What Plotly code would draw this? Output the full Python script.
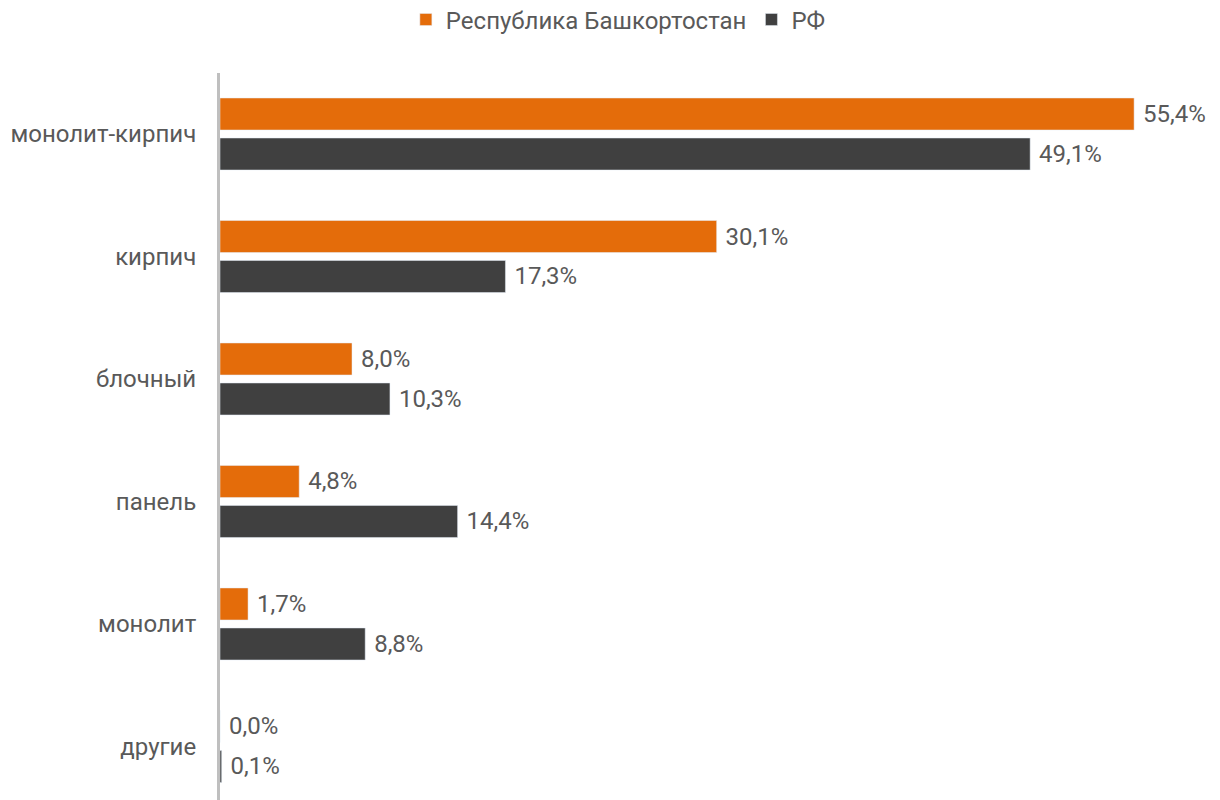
import plotly.graph_objects as go

categories = ["монолит-кирпич", "кирпич", "блочный", "панель", "монолит", "другие"]
bashkortostan = [55.4, 30.1, 8.0, 4.8, 1.7, 0.0]
rf = [49.1, 17.3, 10.3, 14.4, 8.8, 0.1]
series_names = ["Республика Башкортостан", "РФ"]

fig = go.Figure()
fig.add_trace(go.Bar(
    y=categories, x=bashkortostan, orientation="h", name=series_names[0],
    marker_color="#E46C0A", text=bashkortostan, texttemplate=" %{x:.1f}%",
    textposition="outside", cliponaxis=False,
    textfont=dict(size=24, color="#595959"),
))
fig.add_trace(go.Bar(
    y=categories, x=rf, orientation="h", name=series_names[1],
    marker_color="#404040", text=rf, texttemplate=" %{x:.1f}%",
    textposition="outside", cliponaxis=False,
    textfont=dict(size=24, color="#595959"),
))

fig.update_layout(
    width=1212, height=792,
    margin=dict(l=212, r=10, t=65, b=0, autoexpand=False),
    paper_bgcolor="white", plot_bgcolor="white",
    font=dict(family="Roboto", size=24, color="#595959"),
    barmode="group", bargap=0.347, bargroupgap=0.2,
    separators=", ",
    showlegend=True,
    legend=dict(orientation="h", xref="container", yref="container",
                x=0.5036, xanchor="center", y=0.985, yanchor="middle",
                font=dict(size=24, color="#595959"), itemwidth=30,
                traceorder="normal"),
    xaxis=dict(range=[0, 60], showgrid=False, showticklabels=False,
               zeroline=False, showline=False, fixedrange=True,
               automargin=False),
    yaxis=dict(categoryorder="array", categoryarray=categories,
               range=[5.437, -0.498], showgrid=False, zeroline=False,
               showline=True, linecolor="#bfbfbf", linewidth=3,
               ticks="", ticklabelstandoff=16, automargin=False,
               tickfont=dict(size=24, color="#595959")),
)

fig.write_html("out.html")
